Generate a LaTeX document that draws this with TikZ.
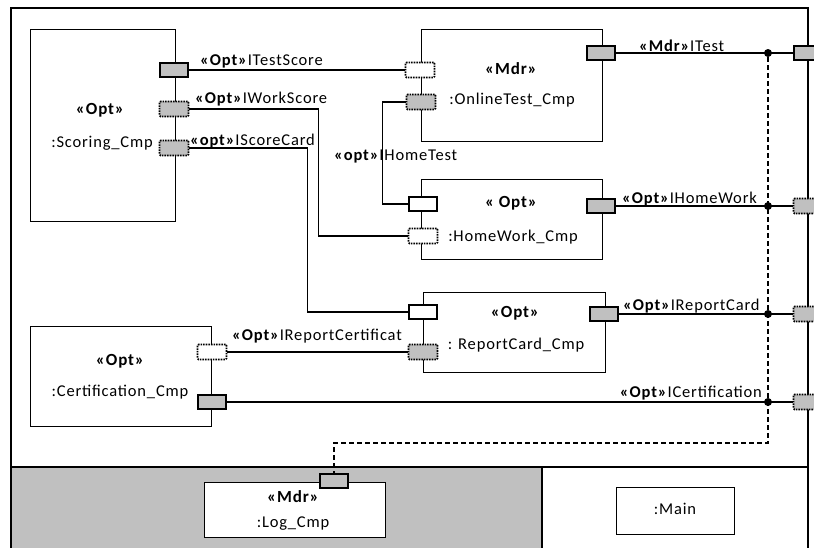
\documentclass[tikz,border=0pt]{standalone}
\usepackage{fontspec}
\setmainfont{Carlito}[LetterSpace=5]
\definecolor{pgrey}{HTML}{C0C0C0}
\begin{document}
\begin{tikzpicture}[x=1pt,y=-1pt,
  every node/.style={font=\fontsize{16.5}{18}\selectfont, inner sep=0pt},
  bnode/.style={font=\fontsize{17}{18}\selectfont\bfseries},
  comp/.style={draw, line width=1.3pt, fill=white, anchor=north west},
  ptS/.style={draw, line width=2.2pt, fill=pgrey, minimum width=28pt, minimum height=14pt},
  ptD/.style={draw, densely dotted, line width=1.6pt, fill=pgrey, minimum width=29pt, minimum height=15pt, rounded corners=1pt},
  ptW/.style={draw, densely dotted, line width=1.6pt, fill=white, minimum width=29pt, minimum height=15pt, rounded corners=1pt},
  ptO/.style={draw, line width=2.2pt, fill=white, minimum width=28pt, minimum height=14pt},
  lbl/.style={anchor=west},
  conn/.style={line width=1.3pt},
  dconn/.style={line width=1.3pt, dash pattern=on 5pt off 3pt},
  jdot/.style={circle, fill=black, minimum size=8pt}
]
\useasboundingbox (0,0) rectangle (814,547);
\clip (0,0) rectangle (814,547);
% frame
\fill[pgrey] (11,467) rectangle (542,560);
\draw[line width=1.3pt] (11,8) rectangle (808,560);
\draw[line width=1.3pt] (11,467) -- (808,467);
\draw[line width=1.3pt] (542,467) -- (542,560);

% components
\node[comp, minimum width=145pt, minimum height=192pt] (sc) at (30,29) {};
\node[comp, minimum width=181pt, minimum height=112pt] (ot) at (421,29) {};
\node[comp, minimum width=181pt, minimum height=80pt] (hw) at (421,179) {};
\node[comp, minimum width=182pt, minimum height=80pt] (rc) at (423,292) {};
\node[comp, minimum width=181pt, minimum height=100pt] (cp) at (30,326) {};
\node[comp, minimum width=181pt, minimum height=55pt] (lg) at (204,482) {};
\node[comp, minimum width=118pt, minimum height=47pt] (mn) at (616,487) {};

% component texts
\node[bnode] (t1) at (100,110) {«Opt»};
\node (t2) at (102,143) {:Scoring\_Cmp};
\node[bnode] (t3) at (511,69) {«Mdr»};
\node (t4) at (512,100) {:OnlineTest\_Cmp};
\node[bnode] (t5) at (511,203) {« Opt»};
\node (t6) at (513,237) {:HomeWork\_Cmp};
\node[bnode] (t7) at (515,313) {«Opt»};
\node (t8) at (516,345) {: ReportCard\_Cmp};
\node[bnode] (t9) at (120,361) {«Opt»};
\node (t10) at (120,392) {:Certification\_Cmp};
\node[bnode] (t11) at (293,497) {«Mdr»};
\node (t12) at (293,524) {:Log\_Cmp};
\node (t13) at (675,509) {:Main};

% ports
\node[ptS] (sc1) at (174,70) {};
\node[ptD] (sc2) at (174,109) {};
\node[ptD] (sc3) at (174,148) {};
\node[ptW] (ot1) at (420,70) {};
\node[ptD] (ot2) at (421,102) {};
\node[ptS] (ot3) at (601,53) {};
\node[ptO] (hw1) at (423,204) {};
\node[ptW] (hw2) at (423,236) {};
\node[ptS] (hw3) at (601,206) {};
\node[ptO] (rc1) at (423,312) {};
\node[ptD] (rc2) at (423,352) {};
\node[ptS] (rc3) at (604,314) {};
\node[ptW] (cp1) at (212,352) {};
\node[ptS] (cp2) at (212,402) {};
\node[ptS] (lg1) at (334,481) {};
\node[ptS] (rp1) at (808,53) {};
\node[ptD] (rp2) at (808,206) {};
\node[ptD] (rp3) at (808,314) {};
\node[ptD] (rp4) at (808,402) {};

% junctions
\node[jdot] (d1) at (768,53) {};
\node[jdot] (d2) at (768,206) {};
\node[jdot] (d3) at (768,314) {};
\node[jdot] (d4) at (768,402) {};
\coordinate (dc) at (768,443);

% connectors
\draw[conn] (sc1.east) -- (ot1.west);
\draw[conn] (sc2.east) -- ++(129,0) |- (hw2.west);
\draw[conn] (sc3.east) -- ++(118,0) |- (rc1.west);
\draw[conn] (ot2.west) -- ++(-23,0) |- (hw1.west);
\draw[conn] (cp1.east) -- (rc2.west);
\draw[conn] (ot3.east) -- (d1.center) -- (rp1.west);
\draw[conn] (hw3.east) -- (d2.center) -- (rp2.west);
\draw[conn] (rc3.east) -- (d3.center) -- (rp3.west);
\draw[conn] (cp2.east) -- (d4.center) -- (rp4.west);
\draw[dconn] (d1.south) -- (dc) -| (lg1.north);

% connector labels
\node[lbl] (l1) at (200,61) {\textbf{«Opt»}ITestScore};
\node[lbl] (l2) at (195,99) {\textbf{«Opt»}IWorkScore};
\node[lbl] (l3) at (190,141) {\textbf{«opt»}IScoreCard};
\node[lbl] (l4) at (334,156) {\textbf{«opt»}IHomeTest};
\node[lbl] (l5) at (639,46) {\textbf{«Mdr»}ITest};
\node[lbl] (l6) at (622,199) {\textbf{«Opt»}IHomeWork};
\node[lbl] (l7) at (623,306) {\textbf{«Opt»}IReportCard};
\node[lbl] (l8) at (232,336) {\textbf{«Opt»}IReportCertificat};
\node[anchor=east] (l9) at (762,393) {\textbf{«Opt»}ICertification};
\end{tikzpicture}
\end{document}
